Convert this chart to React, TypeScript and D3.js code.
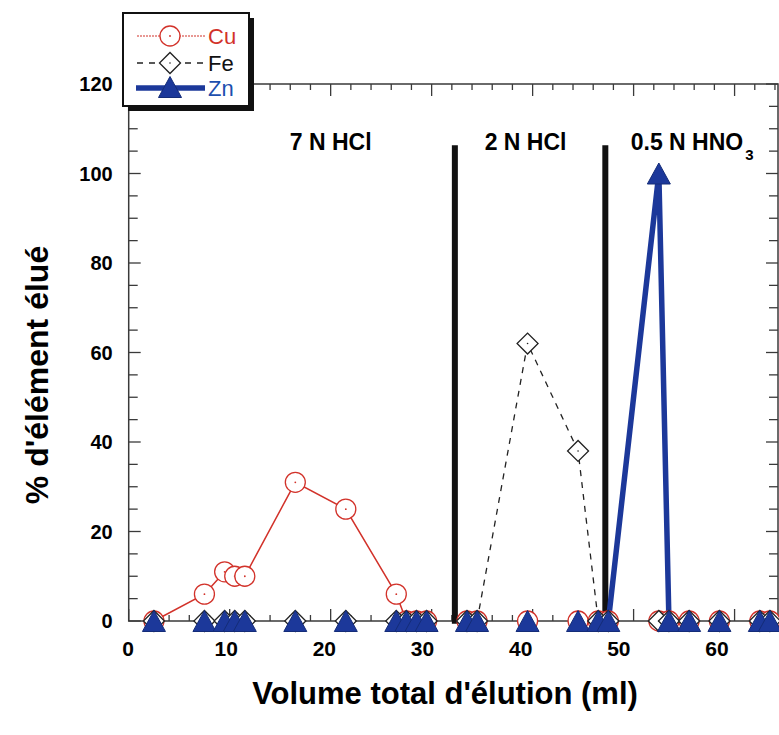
import * as d3 from 'd3';
import { useEffect, useRef } from 'react';

// elution fractions (ml) and % eluted per element
const fractions = [2.5, 7.5, 9.5, 10.5, 11.5, 16.5, 21.5, 26.5, 27.5, 28.5, 29.5, 33.5, 34.5, 39.5, 44.5, 46.5, 47.5, 52.5, 53.5, 55.5, 58.5, 62.5, 63.5];
const cu = [0, 6, 11, 10, 10, 31, 25, 6, 0, 0, 0, 0, 0, 0, 0, 0, 0, 0, 0, 0, 0, 0, 0];
const fe = [0, 0, 0, 0, 0, 0, 0, 0, 0, 0, 0, 0, 0, 62, 38, 0, 0, 0, 0, 0, 0, 0, 0];
const zn = [0, 0, 0, 0, 0, 0, 0, 0, 0, 0, 0, 0, 0, 0, 0, 0, 0, 100, 0, 0, 0, 0, 0];

const stageBounds = [32.3, 47.2];
const stageLabels = ['7 N HCl', '2 N HCl', '0.5 N HNO'];
const stageCenters = [20, 39.3, 55.8];

const xTickLabels = [0, 10, 20, 30, 40, 50, 60];
const yTickLabels = [0, 20, 40, 60, 80, 100, 120];

const RED = '#d2322a';
const BLUE = '#1c389a';

export default function App() {
    const ref = useRef<SVGSVGElement | null>(null);

    useEffect(() => {
        const svg = d3.select(ref.current);
        svg.selectAll('*').remove();

        const width = 779;
        const height = 735;
        const font = '"Liberation Sans", Arial, sans-serif';

        const x = d3.scaleLinear().domain([0, 64.3]).range([128.7, 778]);
        const y = d3.scaleLinear().domain([0, 120]).range([621, 84]);
        // printed labels sit on a slightly narrower scale than the ticks in the scan
        const xLabel = d3.scaleLinear().domain([0, 60]).range([128, 717]);

        svg.attr('width', width).attr('height', height);
        svg.append('rect').attr('width', width).attr('height', height).attr('fill', '#fff');

        const axisColor = '#3a3a3a';
        const [x0, x1] = x.range();
        const [y0, y1] = y.range();

        // frame
        svg.append('rect')
            .attr('x', x0).attr('y', y1)
            .attr('width', x1 - x0).attr('height', y0 - y1)
            .attr('fill', 'none').attr('stroke', axisColor).attr('stroke-width', 1.5);

        const xMinor = d3.range(0, 64.3, 2);
        const yMinor = d3.range(0, 121, 5);
        const ticks = svg.append('g').attr('stroke', axisColor).attr('stroke-width', 1.3);

        xMinor.forEach(v => {
            const len = v % 10 === 0 ? 12 : 6;
            ticks.append('line').attr('x1', x(v)).attr('x2', x(v)).attr('y1', y0).attr('y2', y0 - len);
            ticks.append('line').attr('x1', x(v)).attr('x2', x(v)).attr('y1', y1).attr('y2', y1 + len);
        });
        yMinor.forEach(v => {
            const len = v % 20 === 0 ? 12 : 9;
            ticks.append('line').attr('x1', x0).attr('x2', x0 + len).attr('y1', y(v)).attr('y2', y(v));
            ticks.append('line').attr('x1', x1).attr('x2', x1 - len).attr('y1', y(v)).attr('y2', y(v));
        });

        svg.append('g').selectAll('text').data(yTickLabels).join('text')
            .attr('x', x0 - 16).attr('y', d => y(d))
            .attr('dy', '0.36em')
            .attr('text-anchor', 'end')
            .attr('font-family', font).attr('font-weight', 'bold').attr('font-size', 20)
            .text(d => d);

        svg.append('g').selectAll('text').data(xTickLabels).join('text')
            .attr('x', d => xLabel(d)).attr('y', y0 + 35)
            .attr('text-anchor', 'middle')
            .attr('font-family', font).attr('font-weight', 'bold').attr('font-size', 21)
            .text(d => d);

        // stage separators
        svg.append('g').selectAll('line').data(stageBounds).join('line')
            .attr('x1', d => x(d)).attr('x2', d => x(d))
            .attr('y1', y(-0.6)).attr('y2', y(106.3))
            .attr('stroke', '#111').attr('stroke-width', 6);

        const stageText = svg.append('g').selectAll('text').data(stageLabels).join('text')
            .attr('x', (_, i) => x(stageCenters[i])).attr('y', y(105.2))
            .attr('text-anchor', 'middle')
            .attr('font-family', font).attr('font-weight', 'bold').attr('font-size', 23)
            .text(d => d);
        stageText.filter((_, i) => i === 2)
            .append('tspan').attr('dy', 10).attr('dx', 2).attr('font-size', 15).text('3');

        // lines: only the parts that leave the baseline
        const pts = (vals: number[]) => fractions.map((f, i) => ({ f, v: vals[i], i }));
        const drawLine = (vals: number[], stroke: string, w: number, dash?: string) => {
            const line = d3.line<{ f: number; v: number; i: number }>()
                .defined(d => d.v !== 0 || (vals[d.i - 1] ?? 0) !== 0 || (vals[d.i + 1] ?? 0) !== 0)
                .x(d => x(d.f)).y(d => y(d.v));
            svg.append('path').datum(pts(vals))
                .attr('fill', 'none').attr('stroke', stroke).attr('stroke-width', w)
                .attr('stroke-dasharray', dash ?? null)
                .attr('stroke-linejoin', 'miter')
                .attr('d', line);
        };
        drawLine(cu, RED, 1.5);
        drawLine(fe, '#222', 1.3, '6,6');
        drawLine(zn, BLUE, 5.5);

        const triPath = 'M0,-10.5L11.5,10.5L-11.5,10.5Z';
        const diamond = d3.symbol(d3.symbolSquare, 220)();

        const drawCircle = (g: any, cx: number, cy: number) => {
            g.append('circle').attr('cx', cx).attr('cy', cy).attr('r', 10)
                .attr('fill', '#fff').attr('stroke', RED).attr('stroke-width', 1.3);
            g.append('circle').attr('cx', cx).attr('cy', cy).attr('r', 0.9).attr('fill', RED);
        };
        const drawDiamond = (g: any, cx: number, cy: number) => {
            g.append('path').attr('d', diamond)
                .attr('transform', `translate(${cx},${cy}) rotate(45)`)
                .attr('fill', '#fff').attr('stroke', '#222').attr('stroke-width', 1.3);
            g.append('circle').attr('cx', cx).attr('cy', cy).attr('r', 0.8).attr('fill', '#222');
        };
        const drawTri = (g: any, cx: number, cy: number) => {
            g.append('path').attr('d', triPath)
                .attr('transform', `translate(${cx},${cy})`)
                .attr('fill', BLUE).attr('stroke', '#142c78').attr('stroke-width', 1);
        };

        const marks = svg.append('g');
        fractions.forEach((f, i) => drawCircle(marks, x(f), y(cu[i])));
        fractions.forEach((f, i) => drawDiamond(marks, x(f), y(fe[i])));
        fractions.forEach((f, i) => drawTri(marks, x(f), y(zn[i])));

        // legend
        const lg = svg.append('g');
        lg.append('rect').attr('x', 128).attr('y', 18).attr('width', 126).attr('height', 93).attr('fill', '#111');
        lg.append('rect').attr('x', 123).attr('y', 13).attr('width', 126).attr('height', 93)
            .attr('fill', '#fff').attr('stroke', '#111').attr('stroke-width', 2);

        const rows = [36, 63, 88];
        lg.append('line').attr('x1', 137).attr('x2', 205).attr('y1', rows[0]).attr('y2', rows[0])
            .attr('stroke', RED).attr('stroke-width', 1.2).attr('stroke-dasharray', '2,1');
        drawCircle(lg, 170, rows[0]);
        lg.append('line').attr('x1', 137).attr('x2', 205).attr('y1', rows[1]).attr('y2', rows[1])
            .attr('stroke', '#222').attr('stroke-width', 1.3).attr('stroke-dasharray', '6,6');
        drawDiamond(lg, 170, rows[1]);
        lg.append('line').attr('x1', 136).attr('x2', 205).attr('y1', rows[2]).attr('y2', rows[2])
            .attr('stroke', BLUE).attr('stroke-width', 5.5);
        drawTri(lg, 170, rows[2] - 1);

        const legendNames = ['Cu', 'Fe', 'Zn'];
        const legendColors = [RED, '#111', '#1d4fae'];
        lg.selectAll('text.lbl').data(legendNames).join('text')
            .attr('x', 208).attr('y', (_, i) => rows[i]).attr('dy', '0.36em')
            .attr('font-family', font).attr('font-size', 22)
            .attr('fill', (_, i) => legendColors[i])
            .text(d => d);

        // axis titles
        svg.append('text')
            .attr('x', 445).attr('y', 704)
            .attr('text-anchor', 'middle')
            .attr('font-family', font).attr('font-weight', 'bold').attr('font-size', 31)
            .text("Volume total d'élution (ml)");

        svg.append('text')
            .attr('transform', `translate(48,375) rotate(-90)`)
            .attr('text-anchor', 'middle')
            .attr('font-family', font).attr('font-weight', 'bold').attr('font-size', 32)
            .text("% d'élément élué");
    }, []);

    return <svg ref={ref} style={{ position: 'absolute', left: 0, top: 0 }}></svg>;
}
